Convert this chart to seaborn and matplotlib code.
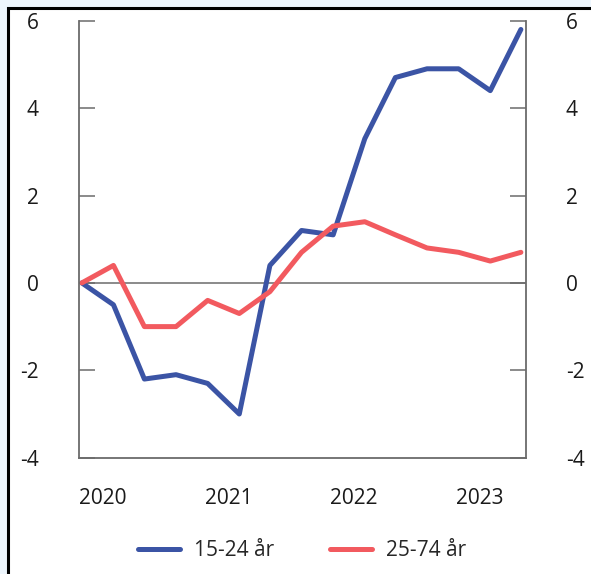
import pandas as pd
import matplotlib.pyplot as plt
import seaborn as sns
from matplotlib.patches import Rectangle

# Data: change since Nov 2019, quarterly points (3-month windows)
dates = pd.date_range("2019-11-01", periods=15, freq="3MS")
young = [0, -0.5, -2.2, -2.1, -2.3, -3.0, 0.4, 1.2, 1.1, 3.3, 4.7, 4.9, 4.9, 4.4, 5.8]
adults = [0, 0.4, -1.0, -1.0, -0.4, -0.7, -0.2, 0.7, 1.3, 1.4, 1.1, 0.8, 0.7, 0.5, 0.7]
series_names = ["15-24 år", "25-74 år"]
year_labels = ["2020", "2021", "2022", "2023"]
y_ticks = [-4, -2, 0, 2, 4, 6]

df = pd.DataFrame({"dato": dates, series_names[0]: young, series_names[1]: adults})
df = df.melt(id_vars="dato", var_name="gruppe", value_name="verdi")

sns.set_theme(style="white")
plt.rcParams["font.family"] = ["Open Sans", "DejaVu Sans"]
plt.rcParams["font.size"] = 15
plt.rcParams["axes.unicode_minus"] = False

fig = plt.figure(figsize=(5.91, 5.74), dpi=100)
fig.patch.set_facecolor("#eef6fd")
# white panel with black frame (top/left edges visible)
fig.patches.append(Rectangle((8 / 591, -0.1), 1.2, 1 - 8 / 574 + 0.1,
                             transform=fig.transFigure, facecolor="white",
                             edgecolor="black", linewidth=2.2, zorder=-10))

ax = fig.add_axes([0.1332, 0.2026, 0.8895 - 0.1332, 0.9639 - 0.2026])
ax.set_facecolor("none")

palette = {series_names[0]: "#3b54a5", series_names[1]: "#f25a5f"}
sns.lineplot(data=df, x="dato", y="verdi", hue="gruppe", palette=palette,
             linewidth=3.6, ax=ax, legend=True)

ax.axhline(0, color="#6b6b6b", linewidth=1.1, zorder=1)

ax.set_ylim(-4, 6)
ax.set_yticks(y_ticks)
ax.set_xlim(dates[0] - pd.Timedelta(days=9), dates[-1] + pd.Timedelta(days=14))
ax.set_xticks(pd.to_datetime([f"{y}-01-01" for y in year_labels]))
ax.set_xticklabels(year_labels)
ax.set_xlabel("")
ax.set_ylabel("")

for side in ["left", "right", "bottom"]:
    ax.spines[side].set_color("#6b6b6b")
    ax.spines[side].set_linewidth(1.3)
ax.spines["top"].set_visible(False)

ax.tick_params(axis="y", which="both", direction="in", length=11.5, width=1.1,
               color="#6b6b6b", left=True, right=True, labelleft=True,
               labelright=True, pad=29, labelsize=15, labelcolor="#1a1a1a")
ax.tick_params(axis="x", length=0, pad=22, labelsize=15, labelcolor="#1a1a1a")

handles, labels = ax.get_legend_handles_labels()
ax.legend(handles, labels, loc="upper center", bbox_to_anchor=(0.5, -0.145),
          ncol=2, frameon=False, fontsize=15, handlelength=2.0,
          handletextpad=0.67, columnspacing=2.7)

fig.savefig("out.png", dpi=100)
